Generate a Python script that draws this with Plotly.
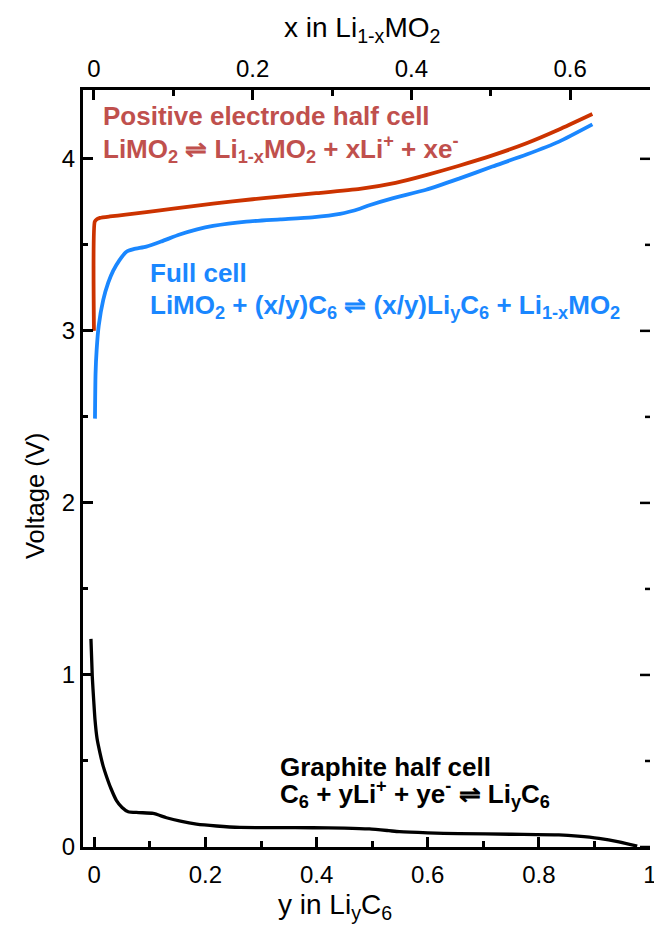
import plotly.graph_objects as go

# Positive electrode half cell (top axis: x in Li1-xMO2)
pos_x = [0, 0.001, 0.004, 0.0075, 0.02, 0.04, 0.066, 0.10, 0.15, 0.20, 0.234, 0.28,
         0.335, 0.38, 0.4185, 0.46, 0.502, 0.545, 0.586, 0.628]
pos_v = [3.0, 3.635, 3.65, 3.657, 3.665, 3.675, 3.69, 3.71, 3.74, 3.765, 3.78, 3.80,
         3.825, 3.86, 3.905, 3.96, 4.02, 4.09, 4.17, 4.26]

# Full cell (top axis)
full_x = [0.0013, 0.002, 0.0034, 0.006, 0.0117, 0.018, 0.0243, 0.032, 0.041, 0.05,
          0.066, 0.085, 0.108, 0.13, 0.150, 0.192, 0.235, 0.275, 0.31, 0.335, 0.347,
          0.376, 0.4185, 0.46, 0.502, 0.545, 0.586, 0.628]
full_v = [2.49, 2.75, 2.89, 3.03, 3.18, 3.28, 3.35, 3.41, 3.46, 3.475, 3.49, 3.52,
          3.56, 3.59, 3.61, 3.635, 3.648, 3.66, 3.68, 3.71, 3.73, 3.77, 3.82, 3.885,
          3.955, 4.025, 4.10, 4.20]

# Graphite half cell (bottom axis: y in LiyC6)
gr_y = [-0.006, -0.0036, -0.001, 0.0013, 0.005, 0.010, 0.016, 0.022, 0.030, 0.040,
        0.050, 0.061, 0.08, 0.106, 0.130, 0.155, 0.184, 0.22, 0.262, 0.33, 0.393,
        0.45, 0.495, 0.53, 0.549, 0.60, 0.656, 0.75, 0.836, 0.87, 0.908, 0.944, 0.977]
gr_v = [1.21, 0.99, 0.85, 0.74, 0.63, 0.55, 0.47, 0.41, 0.34, 0.27, 0.23, 0.205, 0.20,
        0.195, 0.17, 0.15, 0.133, 0.122, 0.114, 0.113, 0.112, 0.11, 0.105, 0.095,
        0.089, 0.082, 0.078, 0.074, 0.07, 0.063, 0.05, 0.03, 0.005]

bottom_ticks = [0, 0.2, 0.4, 0.6, 0.8, 1]
top_ticks = [0, 0.2, 0.4, 0.6]
y_ticks = [0, 1, 2, 3, 4]
y_minor = [0.5, 1.5, 2.5, 3.5]

RED_LINE = "#cc3300"
RED_TEXT = "#c0504d"
BLUE = "#1a87ff"
FONT = "Liberation Sans, Arial, sans-serif"

W, H = 654, 932
L, R, T, B = 83, 650, 90, 847
X_RANGE = [-0.0203, 1.0]
Y_RANGE = [0, 4.4]

fig = go.Figure()
fig.add_trace(go.Scatter(x=gr_y, y=gr_v, mode="lines",
                         line=dict(color="black", width=3.3, shape="spline", smoothing=0.6),
                         xaxis="x", yaxis="y", showlegend=False))
fig.add_trace(go.Scatter(x=full_x, y=full_v, mode="lines",
                         line=dict(color=BLUE, width=3.8, shape="spline", smoothing=0.6),
                         xaxis="x2", yaxis="y", showlegend=False))
fig.add_trace(go.Scatter(x=pos_x, y=pos_v, mode="lines",
                         line=dict(color=RED_LINE, width=3.8, shape="spline", smoothing=0.5),
                         xaxis="x2", yaxis="y", showlegend=False))

# right frame edge and mirrored voltage ticks, placed through the bottom/left axes
xr = X_RANGE[1]
unit_per_px = (X_RANGE[1] - X_RANGE[0]) / (R - L)
fx, fy = [xr + 1.5 * unit_per_px, xr + 1.5 * unit_per_px], [Y_RANGE[0] - 0.01, Y_RANGE[1] + 0.01]
tx, ty = [], []
for v in y_ticks:
    tx += [xr, xr - 10 * unit_per_px, None]
    ty += [v, v, None]
for v in y_minor:
    tx += [xr, xr - 5 * unit_per_px, None]
    ty += [v, v, None]
fig.add_trace(go.Scatter(x=fx, y=fy, mode="lines", line=dict(color="black", width=3),
                         cliponaxis=False, hoverinfo="skip", showlegend=False, xaxis="x", yaxis="y"))
fig.add_trace(go.Scatter(x=tx, y=ty, mode="lines", line=dict(color="black", width=2.5),
                         cliponaxis=False, hoverinfo="skip", showlegend=False, xaxis="x", yaxis="y",
                         connectgaps=False))

def px(xp):
    return (xp - L) / (R - L)

def py(yp):
    return (B - yp) / (B - T)

axis_common = dict(showline=True, linewidth=3, linecolor="black", ticks="inside",
                   ticklen=10, tickwidth=2.5, tickcolor="black", showgrid=False,
                   zeroline=False, tickfont=dict(family=FONT, size=24, color="black"),
                   automargin=False, ticklabeloverflow="allow")

fig.update_layout(
    width=W, height=H,
    margin=dict(l=L, r=W - R, t=T, b=H - B),
    paper_bgcolor="white", plot_bgcolor="white",
    font=dict(family=FONT, color="black"),
    xaxis=dict(range=X_RANGE, tickvals=bottom_ticks, ticktext=[str(v) for v in bottom_ticks],
               minor=dict(dtick=0.1, tick0=0, ticks="inside", ticklen=6, tickwidth=2.5, tickcolor="black"),
               ticklabelstandoff=4, **axis_common),
    xaxis2=dict(range=[-0.0138, 0.7006], overlaying="x", side="top", anchor="y",
                tickvals=top_ticks, ticktext=[str(v) for v in top_ticks],
                minor=dict(dtick=0.1, tick0=0, ticks="inside", ticklen=6, tickwidth=2.5, tickcolor="black"),
                **axis_common),
    yaxis=dict(range=Y_RANGE, tickvals=y_ticks, ticktext=[str(v) for v in y_ticks],
               minor=dict(dtick=0.5, tick0=0, ticks="inside", ticklen=5, tickwidth=2.5, tickcolor="black"),
               **axis_common),
)

def ann(text, xp, yp, color, size, bold=False, angle=0, xanchor="left"):
    t = f"<b>{text}</b>" if bold else text
    fig.add_annotation(text=t, x=px(xp), y=py(yp), xref="paper", yref="paper",
                       xanchor=xanchor, yanchor="middle", showarrow=False, textangle=angle,
                       font=dict(family=FONT, size=size, color=color))

# axis titles
ann("Voltage (V)", 35, 496, "black", 25.5, angle=-90, xanchor="center")
ann("y in Li<sub>y</sub>C<sub>6</sub>", 335, 906, "black", 28, xanchor="center")
ann("x in Li<sub>1-x</sub>MO<sub>2</sub>", 362, 30, "black", 28, xanchor="center")

# in-plot labels
ann("Positive electrode half cell", 101, 116, RED_TEXT, 26, bold=True)
ann("LiMO<sub>2</sub> \u21cc Li<sub>1-x</sub>MO<sub>2</sub> + xLi<sup>+</sup> + xe<sup>-</sup>",
    101, 149, RED_TEXT, 26, bold=True)
ann("Full cell", 148, 273, BLUE, 26, bold=True)
ann("LiMO<sub>2</sub> + (x/y)C<sub>6</sub> \u21cc (x/y)Li<sub>y</sub>C<sub>6</sub> + Li<sub>1-x</sub>MO<sub>2</sub>",
    148, 306, BLUE, 26, bold=True)
ann("Graphite half cell", 278, 767, "black", 26, bold=True)
ann("C<sub>6</sub> + yLi<sup>+</sup> + ye<sup>-</sup> \u21cc Li<sub>y</sub>C<sub>6</sub>",
    278, 794, "black", 26, bold=True)

fig.write_html("out.html")
